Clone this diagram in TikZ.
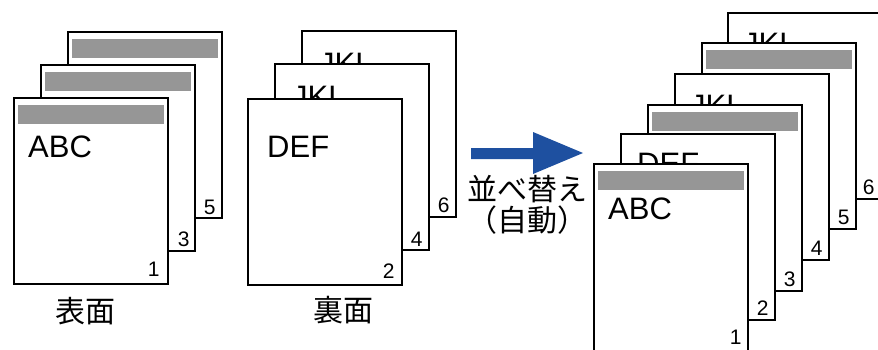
\documentclass[tikz,border=0pt]{standalone}
\usepackage{fontspec}
\setmainfont{Liberation Sans}
\newfontfamily\jpfont{Noto Sans CJK JP}
\usetikzlibrary{calc}
\definecolor{mybar}{RGB}{150,150,150}
\definecolor{myblue}{RGB}{30,80,160}
\tikzset{
  page/.style={rectangle, draw=black, fill=white, line width=1.8pt,
    minimum width=154pt, minimum height=186pt, inner sep=0pt, anchor=north west},
  titlebar/.style={fill=mybar},
  pagetext/.style={font=\fontsize{31pt}{31pt}\selectfont, inner sep=0pt, anchor=base west},
  pagenum/.style={font=\fontsize{21pt}{21pt}\selectfont, inner sep=0pt, anchor=base east},
  caption/.style={font=\jpfont\fontsize{30pt}{31pt}\selectfont, inner sep=0pt, align=center}
}

\begin{document}
\begin{tikzpicture}[x=1pt, y=-1pt]
  \useasboundingbox (0,0) rectangle (878,349);

  % front sides
  \node[page] (l5) at (67,31) {};
  \fill[titlebar] ($(l5.north west)+(5,8)$) rectangle ($(l5.north east)+(-5,27)$);
  \node[pagenum] at ($(l5.south east)+(-7,-4)$) {5};
  \node[page] (l3) at (40,64) {};
  \fill[titlebar] ($(l3.north west)+(5,8)$) rectangle ($(l3.north east)+(-5,27)$);
  \node[pagenum] at ($(l3.south east)+(-6,-5)$) {3};
  \node[page] (l1) at (13,97) {};
  \fill[titlebar] ($(l1.north west)+(5,8)$) rectangle ($(l1.north east)+(-5,27)$);
  \node[pagetext] at ($(l1.north west)+(15,60)$) {ABC};
  \node[pagenum] at ($(l1.south east)+(-9,-8)$) {1};
  \node[caption] (front) at (85,311) {表面};

  % back sides
  \node[page] (m6) at (301,30) {};
  \node[pagetext] at ($(m6.north west)+(18,44)$) {JKL};
  \node[pagenum] at ($(m6.south east)+(-7,-5)$) {6};
  \node[page] (m4) at (274,63) {};
  \node[pagetext] at ($(m4.north west)+(18,44)$) {JKL};
  \node[pagenum] at ($(m4.south east)+(-7,-4)$) {4};
  \node[page] (m2) at (247,98) {};
  \node[pagetext] at ($(m2.north west)+(20,59)$) {DEF};
  \node[pagenum] at ($(m2.south east)+(-8,-7)$) {2};
  \node[caption] (back) at (343,310) {裏面};

  % arrow
  \fill[myblue] (471,148) -- (533,148) -- (533,132) -- (583,153)
    -- (533,174) -- (533,159) -- (471,159) -- cycle;
  \node[caption] (sortlbl) at (527,205) {並べ替え\\（自動）};

  % sorted stack
  \node[page] (r6) at (727,12) {};
  \node[pagetext] at ($(r6.north west)+(16,42)$) {JKL};
  \node[pagenum] at ($(r6.south east)+(-8,-5)$) {6};
  \node[page] (r5) at (701,42) {};
  \fill[titlebar] ($(r5.north west)+(5,8)$) rectangle ($(r5.north east)+(-5,27)$);
  \node[pagenum] at ($(r5.south east)+(-7,-5)$) {5};
  \node[page] (r4) at (674,73) {};
  \node[pagetext] at ($(r4.north west)+(16,43)$) {JKL};
  \node[pagenum] at ($(r4.south east)+(-7,-5)$) {4};
  \node[page] (r3) at (647,104) {};
  \fill[titlebar] ($(r3.north west)+(5,8)$) rectangle ($(r3.north east)+(-5,27)$);
  \node[pagenum] at ($(r3.south east)+(-7,-5)$) {3};
  \node[page] (r2) at (620,133) {};
  \node[pagetext] at ($(r2.north west)+(17,41)$) {DEF};
  \node[pagenum] at ($(r2.south east)+(-7,-5)$) {2};
  \node[page, minimum height=190pt] (r1) at (593,163) {};
  \fill[titlebar] ($(r1.north west)+(5,8)$) rectangle ($(r1.north east)+(-5,27)$);
  \node[pagetext] at ($(r1.north west)+(15,56)$) {ABC};
  \node[pagenum] at ($(r1.south east)+(-7,-10)$) {1};
\end{tikzpicture}
\end{document}
